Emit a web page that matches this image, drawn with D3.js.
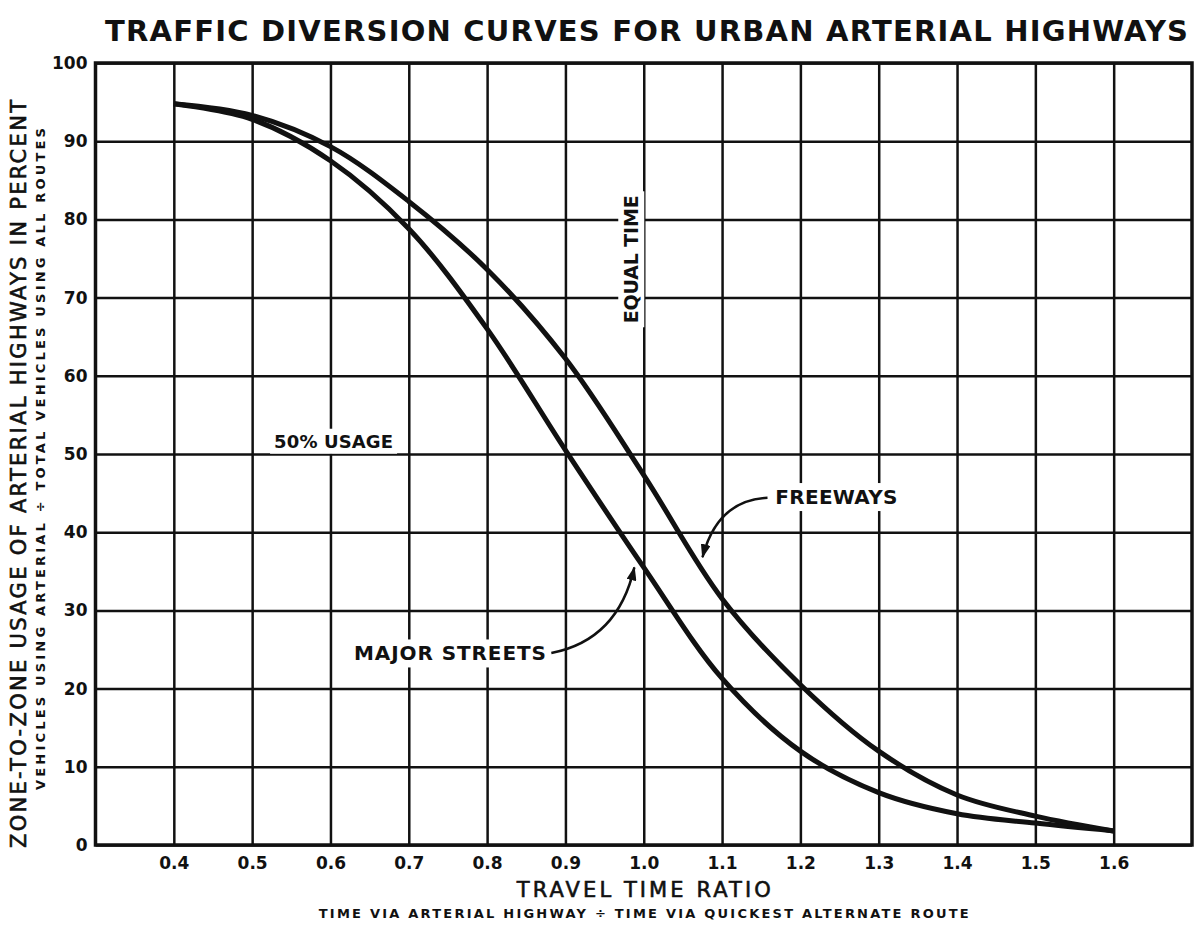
<!DOCTYPE html>
<html>
<head>
<meta charset="utf-8">
<script src="https://cdn.jsdelivr.net/npm/d3@7"></script>
<style>
  body { margin: 0; background: #fff; }
  svg text { font-family: "DejaVu Sans", sans-serif; fill: #111; }
</style>
</head>
<body>
<div id="chart"></div>
<script>
// tick values
var ratioTicks = [0.4, 0.5, 0.6, 0.7, 0.8, 0.9, 1.0, 1.1, 1.2, 1.3, 1.4, 1.5, 1.6];
var usageTicks = [0, 10, 20, 30, 40, 50, 60, 70, 80, 90, 100];

// curves (travel time ratio -> % usage)
var ratio        = [0.4, 0.5, 0.6, 0.7, 0.8, 0.9, 1.0, 1.1, 1.2, 1.3, 1.4, 1.5, 1.6];
var majorStreets = [94.8, 92.8, 87.5, 78.8, 66, 50.5, 35.5, 21.3, 12, 6.7, 4, 2.8, 1.8];
var freeways     = [94.8, 93.3, 89.3, 82.3, 73.6, 62.2, 47.3, 31.5, 20.5, 12, 6.4, 3.7, 1.8];

var width = 1201, height = 930;

var svg = d3.select('#chart')
  .append('svg')
  .attr('width', width)
  .attr('height', height);

var x = d3.scaleLinear().domain([0.3, 1.7]).range([95.5, 1192]);
var y = d3.scaleLinear().domain([0, 100]).range([845, 63]);

// title
svg.append('text')
  .attr('x', 105)
  .attr('y', 41)
  .attr('textLength', 1083)
  .attr('lengthAdjust', 'spacing')
  .style('font-size', '29px')
  .style('font-weight', 'bold')
  .text('TRAFFIC DIVERSION CURVES FOR URBAN ARTERIAL HIGHWAYS');

// grid via axes
var xAxis = svg.append('g')
  .attr('transform', 'translate(0,' + y(0) + ')')
  .call(d3.axisBottom(x)
    .tickValues(ratioTicks)
    .tickSize(-(y(0) - y(100)))
    .tickPadding(12)
    .tickFormat(d3.format('.1f')));

var yAxis = svg.append('g')
  .attr('transform', 'translate(' + x(0.3) + ',0)')
  .call(d3.axisLeft(y)
    .tickValues(usageTicks)
    .tickSize(-(x(1.7) - x(0.3)))
    .tickPadding(8));

[xAxis, yAxis].forEach(function (a) {
  a.select('.domain').remove();
  a.selectAll('line').attr('stroke', '#111').attr('stroke-width', 2.5);
  a.selectAll('text')
    .style('font-family', '"DejaVu Sans", sans-serif')
    .style('font-size', '17px')
    .style('font-weight', 'bold')
    .attr('fill', '#111');
});

// frame
svg.append('rect')
  .attr('x', x(0.3))
  .attr('y', y(100))
  .attr('width', x(1.7) - x(0.3))
  .attr('height', y(0) - y(100))
  .attr('fill', 'none')
  .attr('stroke', '#111')
  .attr('stroke-width', 3.5);

// axis titles
svg.append('text')
  .attr('x', (x(0.3) + x(1.7)) / 2)
  .attr('y', 897)
  .attr('text-anchor', 'middle')
  .attr('textLength', 254)
  .attr('lengthAdjust', 'spacing')
  .style('font-size', '21px')
  .style('stroke', '#111')
  .style('stroke-width', 0.6)
  .text('TRAVEL TIME RATIO');

svg.append('text')
  .attr('x', (x(0.3) + x(1.7)) / 2)
  .attr('y', 918)
  .attr('text-anchor', 'middle')
  .attr('textLength', 650)
  .attr('lengthAdjust', 'spacing')
  .style('font-size', '13px')
  .style('font-weight', 'bold')
  .text('TIME VIA ARTERIAL HIGHWAY ÷ TIME VIA QUICKEST ALTERNATE ROUTE');

svg.append('text')
  .attr('transform', 'translate(26,474) rotate(-90)')
  .attr('text-anchor', 'middle')
  .attr('textLength', 748)
  .attr('lengthAdjust', 'spacing')
  .style('font-size', '21px')
  .style('stroke', '#111')
  .style('stroke-width', 0.6)
  .text('ZONE-TO-ZONE USAGE OF ARTERIAL HIGHWAYS IN PERCENT');

svg.append('text')
  .attr('transform', 'translate(45,459) rotate(-90)')
  .attr('text-anchor', 'middle')
  .attr('textLength', 662)
  .attr('lengthAdjust', 'spacing')
  .style('font-size', '13px')
  .style('font-weight', 'bold')
  .text('VEHICLES USING ARTERIAL ÷ TOTAL VEHICLES USING ALL ROUTES');

// labels inside the plot, with a white patch behind them
function note(txt, vx, vy, size, len, rot, anchor) {
  var g = svg.append('g')
    .attr('transform', 'translate(' + x(vx) + ',' + y(vy) + ') rotate(' + (rot || 0) + ')');
  var t = g.append('text')
    .attr('text-anchor', anchor || 'start')
    .attr('textLength', len)
    .attr('lengthAdjust', 'spacing')
    .style('font-size', size + 'px')
    .style('font-weight', 'bold')
    .text(txt);
  var b = t.node().getBBox();
  g.insert('rect', 'text')
    .attr('x', b.x - 4)
    .attr('y', b.y - 2)
    .attr('width', b.width + 8)
    .attr('height', b.height + 4)
    .attr('fill', '#fff');
}

note('50% USAGE', 0.528, 50.8, 18, 119);
note('MAJOR STREETS', 0.63, 23.6, 20, 192);
note('FREEWAYS', 1.168, 43.6, 20, 122);
note('EQUAL TIME', 0.993, 74.9, 19, 128, -90, 'middle');

// curves
var line = d3.line()
  .x(function (d) { return x(d[0]); })
  .y(function (d) { return y(d[1]); })
  .curve(d3.curveCatmullRom.alpha(0.5));

[majorStreets, freeways].forEach(function (s) {
  svg.append('path')
    .datum(ratio.map(function (r, i) { return [r, s[i]]; }))
    .attr('d', line)
    .attr('fill', 'none')
    .attr('stroke', '#111')
    .attr('stroke-width', 5)
    .attr('stroke-linecap', 'butt');
});

// leader arrows
svg.append('defs').append('marker')
  .attr('id', 'head')
  .attr('markerUnits', 'userSpaceOnUse')
  .attr('viewBox', '0 0 14 10')
  .attr('refX', 13)
  .attr('refY', 5)
  .attr('markerWidth', 14)
  .attr('markerHeight', 10)
  .attr('orient', 'auto')
  .append('path')
  .attr('d', 'M0,0L14,5L0,10z')
  .attr('fill', '#111');

var leaders = [
  [[0.882, 24.55], [0.967, 26.2], [0.988, 35.5]],
  [[1.158, 44.4], [1.094, 44.1], [1.075, 36.8]]
];
leaders.forEach(function (p) {
  svg.append('path')
    .attr('d', 'M' + x(p[0][0]) + ',' + y(p[0][1]) +
      'Q' + x(p[1][0]) + ',' + y(p[1][1]) + ' ' + x(p[2][0]) + ',' + y(p[2][1]))
    .attr('fill', 'none')
    .attr('stroke', '#111')
    .attr('stroke-width', 2.5)
    .attr('marker-end', 'url(#head)');
});
</script>
</body>
</html>
